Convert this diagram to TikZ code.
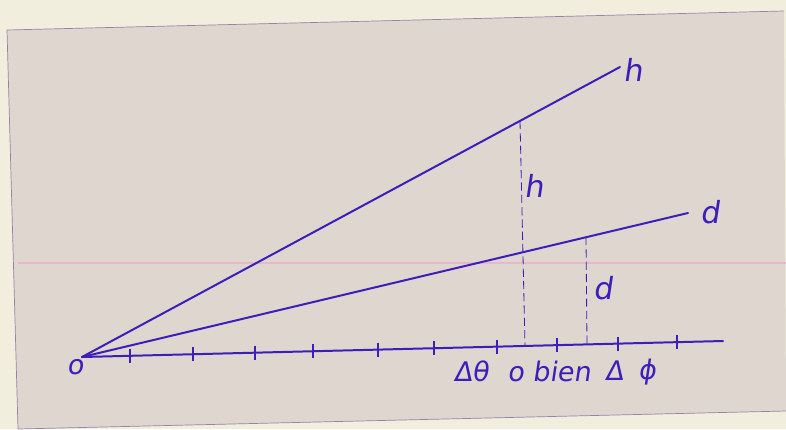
\documentclass[tikz,border=0pt]{standalone}
\usepackage{fontspec}
\setmainfont{DejaVu Sans}
\newfontfamily\handfont[FakeSlant=0.15]{DejaVu Sans}
\usetikzlibrary{calc}
\definecolor{ink}{RGB}{60,30,186}
\definecolor{sheet}{RGB}{222,214,207}
\definecolor{cream}{RGB}{242,238,222}
\definecolor{edge}{RGB}{150,130,170}
\definecolor{pinkrule}{RGB}{236,170,200}
\tikzset{
  inkline/.style={draw=ink, line width=1.7pt, line cap=round},
  dashline/.style={draw=ink, line width=0.7pt, dash pattern=on 7pt off 3.5pt},
  ticklbl/.style={text=ink, font=\handfont\fontsize{23}{26}\selectfont, inner sep=0pt},
  bigl/.style={text=ink, font=\handfont\fontsize{26}{29}\selectfont, inner sep=0pt},
  tickmark/.style={draw=ink, line width=1pt}
}
\begin{document}
\begin{tikzpicture}[x=0.3mm, y=-0.3mm]
\useasboundingbox (0,0) rectangle (786,429);
% paper and sheet
\fill[cream] (0,0) rectangle (786,429);
\fill[sheet] (7,30) -- (784,11) -- (786,411) -- (18,429) -- cycle;
\draw[edge, line width=0.6pt] (18,429) -- (7,30) -- (784,11);
\draw[edge, line width=0.6pt] (786,411) -- (18,429);
\draw[pinkrule, line width=1.4pt, opacity=0.7] (18,263) -- (786,263);
% points
\coordinate (O) at (82,357);
\coordinate (A) at (723,341);
\coordinate (H) at (620,67);
\coordinate (D) at (688,213);
\coordinate (Ht) at (520,121);
\coordinate (Hb) at (525,346);
\coordinate (Dt) at (586,237);
\coordinate (Db) at (587,344);
% lines
\draw[inkline] (O) -- (A);
\draw[inkline] (O) -- (H);
\draw[inkline] (O) -- (D);
\draw[dashline] (Ht) -- (Hb);
\draw[dashline] (Dt) -- (Db);
% ticks
\foreach \t in {0.0749,0.1732,0.2699,0.3604,0.4618,0.5491,0.6474,0.741,0.8362,0.9282}
  \draw[tickmark] ($(O)!\t!(A)$) ++(0,-7) -- ++(0,14);
% labels
\node[ticklbl] (lo) at (75,367) {o};
\node[bigl] (lh) at (633,70) {h};
\node[bigl] (ld) at (710,212) {d};
\node[bigl] (lhm) at (534,186) {h};
\node[bigl] (ldm) at (603,288) {d};
\node[ticklbl] (l1) at (471,371) {Δθ};
\node[ticklbl] (l2) at (549,371) {o bien};
\node[ticklbl] (l3) at (614,371) {Δ};
\node[ticklbl] (l4) at (647,372) {ϕ};
\end{tikzpicture}
\end{document}
